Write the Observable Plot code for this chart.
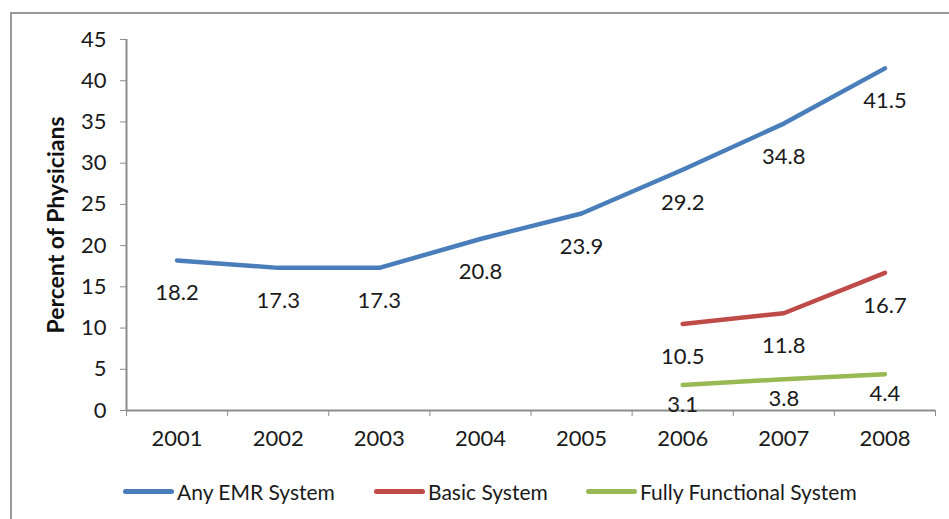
<!DOCTYPE html>
<html>
<head>
<meta charset="utf-8">
<script src="https://cdn.jsdelivr.net/npm/d3@7"></script>
<script src="https://cdn.jsdelivr.net/npm/@observablehq/plot@0.6"></script>
<style>
  html, body { margin: 0; padding: 0; background: #fff; }
  body { width: 949px; height: 519px; position: relative; overflow: hidden; font-family: Lato, "Open Sans", sans-serif; }
  #frame { position: absolute; left: 10px; top: 12px; width: 960px; height: 540px; border-left: 2px solid #9a9a9a; border-top: 2px solid #9a9a9a; box-sizing: border-box; }
  #chart { position: absolute; left: 0; top: 0; }
  #legend { position: absolute; left: 0; top: 477px; width: 949px; height: 28px; font-size: 21px; color: #1a1a1a; }
  .item { position: absolute; top: 0; display: flex; align-items: center; height: 28px; }
  .swatch { width: 51px; height: 5px; border-radius: 2.5px; margin-right: 3px; }
</style>
</head>
<body>
<div id="frame"></div>
<div id="chart"></div>
<div id="legend"></div>
<script>
// Share of office-based physicians using electronic medical records, 2001–2008
const years = [2001, 2002, 2003, 2004, 2005, 2006, 2007, 2008];
const anyEmr = [18.2, 17.3, 17.3, 20.8, 23.9, 29.2, 34.8, 41.5];
const basicYears = [2006, 2007, 2008];
const basic = [10.5, 11.8, 16.7];
const fullYears = [2006, 2007, 2008];
const fully = [3.1, 3.8, 4.4];
const yTicks = [0, 5, 10, 15, 20, 25, 30, 35, 40, 45];

const seriesNames = ["Any EMR System", "Basic System", "Fully Functional System"];
const seriesColors = ["#4a7ebb", "#be4b48", "#98b954"];

const rows = [
  ...years.map((year, i) => ({year, value: anyEmr[i], series: seriesNames[0]})),
  ...basicYears.map((year, i) => ({year, value: basic[i], series: seriesNames[1]})),
  ...fullYears.map((year, i) => ({year, value: fully[i], series: seriesNames[2]}))
];

// category boundaries for the x-axis tick marks
const bounds = [...years.map(y => y - 0.5), years[years.length - 1] + 0.5];

const font = "Lato, 'Open Sans', sans-serif";
const axisGray = "#8c8c8c";
const ink = "#1a1a1a";

const plot = Plot.plot({
  width: 949,
  height: 460,
  marginLeft: 126,
  marginRight: 14,
  marginTop: 39,
  marginBottom: 50,
  style: {fontFamily: font, fontSize: "22px", color: ink, background: "transparent", overflow: "visible"},
  x: {type: "linear", domain: [bounds[0], bounds[bounds.length - 1]]},
  y: {domain: [0, 45]},
  color: {domain: seriesNames, range: seriesColors},
  marks: [
    Plot.axisY({ticks: yTicks, tickSize: 6, tickPadding: 14, stroke: axisGray, label: null, fontSize: 22, fill: ink}),
    Plot.axisX({ticks: bounds, tickSize: 6, tickFormat: () => "", stroke: axisGray, label: null}),
    Plot.axisX({ticks: years, tickSize: 0, tickPadding: 20, tickFormat: d => String(d), label: null, fontSize: 22, fill: ink}),
    Plot.ruleX([bounds[0]], {stroke: axisGray, strokeWidth: 2}),
    Plot.ruleY([0], {stroke: axisGray, strokeWidth: 2}),
    Plot.text(["Percent of Physicians"], {frameAnchor: "left", textAnchor: "middle", rotate: -90, dx: -70, fontWeight: "bold", fontSize: 23, fill: "#111"}),
    Plot.line(rows, {x: "year", y: "value", z: "series", stroke: "series", strokeWidth: 4.5, strokeLinecap: "round"}),
    Plot.text(rows.filter(d => d.series !== seriesNames[2]), {x: "year", y: "value", text: d => d.value.toFixed(1), dy: 33, fontSize: 22, fill: ink}),
    Plot.text(rows.filter(d => d.series === seriesNames[2]), {x: "year", y: "value", text: d => d.value.toFixed(1), dy: 20, fontSize: 22, fill: ink})
  ]
});
document.getElementById("chart").appendChild(plot);

// legend row below the chart
const legendLefts = [123, 374, 586];
const legend = document.getElementById("legend");
seriesNames.forEach((name, i) => {
  const item = document.createElement("div");
  item.className = "item";
  item.style.left = legendLefts[i] + "px";
  const sw = document.createElement("div");
  sw.className = "swatch";
  sw.style.background = seriesColors[i];
  const label = document.createElement("span");
  label.textContent = name;
  item.append(sw, label);
  legend.appendChild(item);
});
</script>
</body>
</html>
